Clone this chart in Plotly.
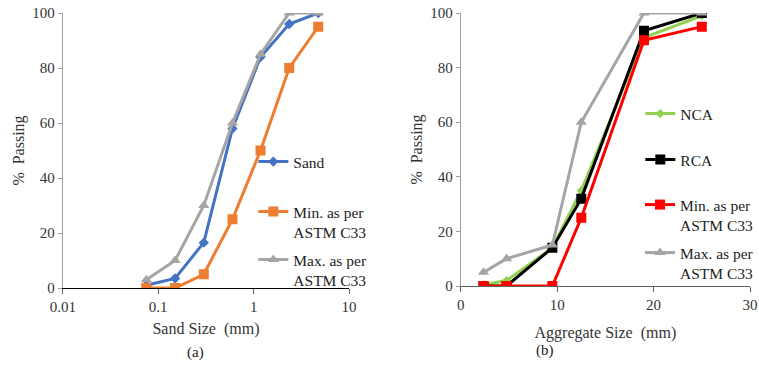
import plotly.graph_objects as go

sand_sizes = [0.075, 0.15, 0.3, 0.6, 1.18, 2.36, 4.75]
sand = [1, 3.5, 16.5, 58, 84, 96, 100]
sand_min = [0, 0, 5, 25, 50, 80, 95]
sand_max = [3, 10, 30, 60, 85, 100, 100]

agg_sizes = [2.36, 4.75, 9.5, 12.5, 19, 25]
nca = [0.5, 2, 14, 35, 91, 99]
rca = [0, 0, 14, 32, 93.5, 100]
agg_min = [0, 0, 0, 25, 90, 95]
agg_max = [5, 10, 15, 60, 100, 100]

FONT = "Liberation Serif, Times New Roman, serif"
W, H = 759, 367


def sx(X):
    return X / W


def sy(Y):
    return 1 - Y / H


fig = go.Figure()


def add(x, y, name, color, symbol, msize, xa, ya, leg):
    fig.add_trace(go.Scatter(
        x=x, y=y, name=name, mode="lines+markers",
        line=dict(color=color, width=3),
        marker=dict(symbol=symbol, size=msize, color=color),
        xaxis=xa, yaxis=ya, legend=leg, showlegend=True))


add(sand_sizes, sand, "Sand", "#4472C4", "diamond", 8, "x", "y", "legend")
add(sand_sizes, sand_min, "Min. as per<br>ASTM C33", "#ED7D31", "square", 10, "x", "y", "legend2")
add(sand_sizes, sand_max, "Max. as per<br>ASTM C33", "#A5A5A5", "triangle-up", 10, "x", "y", "legend3")

add(agg_sizes, nca, "NCA", "#92D050", "diamond", 7, "x2", "y2", "legend4")
add(agg_sizes, rca, "RCA", "#000000", "square", 10, "x2", "y2", "legend5")
add(agg_sizes, agg_min, "Min. as per<br>ASTM C33", "#FF0000", "square", 10, "x2", "y2", "legend6")
add(agg_sizes, agg_max, "Max. as per<br>ASTM C33", "#A5A5A5", "triangle-up", 10, "x2", "y2", "legend7")

tickfont = dict(family=FONT, size=15, color="#333333")
titlefont = dict(family=FONT, size=16, color="#333333")
common_y = dict(range=[0, 100], dtick=20, showgrid=False, zeroline=False,
                showline=True, linecolor="#A0A0A0", ticks="outside", ticklen=4,
                tickcolor="#A0A0A0", tickfont=tickfont, automargin=False,
                ticklabeloverflow="allow",
                title=dict(text="%  Passing", font=titlefont, standoff=3))


def leg(Xsample, Yline):
    return dict(x=sx(Xsample - 8), y=sy(Yline - 17), xanchor="left", yanchor="top",
                bgcolor="rgba(0,0,0,0)", valign="top", itemwidth=30,
                font=dict(family=FONT, size=15.5, color="#222222"))


fig.update_layout(
    width=W, height=H,
    showlegend=True,
    margin=dict(l=0, r=0, t=0, b=0),
    paper_bgcolor="white", plot_bgcolor="white",
    font=dict(family=FONT, size=15, color="#333333"),
    xaxis=dict(domain=[sx(63), sx(350)], type="log", range=[-2, 1],
               tickvals=[0.01, 0.1, 1, 10], ticktext=["0.01", "0.1", "1", "10"],
               showgrid=False, zeroline=False, showline=True, linecolor="#000000",
               ticks="outside", ticklen=5, tickcolor="#606060", tickfont=tickfont,
               automargin=False, ticklabeloverflow="allow",
               title=dict(text="Sand Size  (mm)", font=titlefont, standoff=8),
               anchor="y"),
    yaxis=dict(domain=[sy(288), sy(13)], anchor="x", **common_y),
    xaxis2=dict(domain=[sx(462), sx(752)], range=[0, 30], dtick=10,
                showgrid=False, zeroline=False, showline=True, linecolor="#606060",
                ticks="outside", ticklen=5, tickcolor="#606060", tickfont=tickfont,
                automargin=False, ticklabeloverflow="allow",
                title=dict(text="Aggregate Size  (mm)", font=titlefont, standoff=14),
                anchor="y2"),
    yaxis2=dict(domain=[sy(286), sy(13)], anchor="x2", **common_y),
    legend=leg(262, 162),
    legend2=leg(262, 212),
    legend3=leg(262, 260),
    legend4=leg(650, 114),
    legend5=leg(650, 160),
    legend6=leg(650, 205),
    legend7=leg(650, 253),
    annotations=[
        dict(text="(a)", x=sx(185), y=sy(352), xref="paper", yref="paper",
             yanchor="middle", showarrow=False,
             font=dict(family=FONT, size=15, color="#222222")),
        dict(text="(b)", x=sx(557), y=sy(350), xref="paper", yref="paper",
             yanchor="middle", showarrow=False,
             font=dict(family=FONT, size=15, color="#222222")),
    ],
)

fig.write_html(
    "out.html",
    config={"displayModeBar": False},
    post_script="document.body.style.margin='0';document.body.style.overflow='hidden';",
)
